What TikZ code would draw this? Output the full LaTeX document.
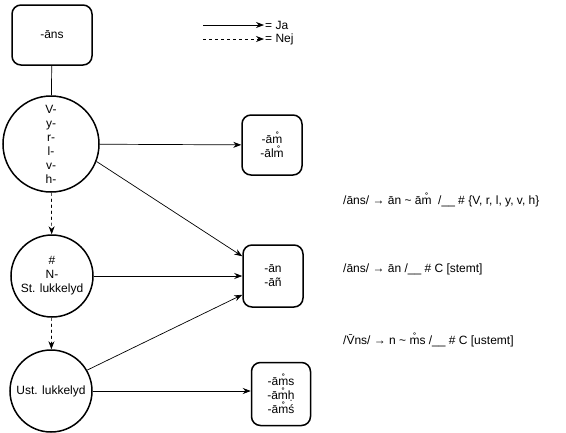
\documentclass[tikz,border=0pt]{standalone}
\usepackage{fontspec}
\setmainfont{Liberation Sans}
\usetikzlibrary{arrows.meta}

\tikzset{
  txt/.style={font=\fontsize{12}{14}\selectfont, align=center, inner sep=1pt},
  formbox/.style={txt, draw, line width=1.5pt, rounded corners=9pt},
  testnode/.style={txt, draw, circle, line width=1.5pt},
  ja/.style={-{Stealth[length=8pt,width=6pt]}, line width=0.7pt},
  nej/.style={ja, dashed},
}

\begin{document}
\begin{tikzpicture}[x=1pt,y=-1pt]

\useasboundingbox (0,0) rectangle (566,432);

% stem og test-noder
\node[formbox, minimum width=80pt, minimum height=60pt] (ans) at (52,35) {-āns};
\node[testnode, minimum size=96pt] (c1) at (51,144) {V-\\y-\\r-\\l-\\v-\\h-};
\node[testnode, minimum size=82pt] (c2) at (52,276) {\#\\N-\\St. lukkelyd};
\node[testnode, minimum size=82pt] (c3) at (51,391) {Ust. lukkelyd};

% resultater
\node[formbox, minimum width=60pt, minimum height=60pt] (b1) at (272,145) {-ām̊\\-ālm̊};
\node[formbox, minimum width=60pt, minimum height=62pt] (b2) at (273,276) {-ān\\-āñ};
\node[formbox, minimum width=59pt, minimum height=63pt] (b3) at (281,394) {-ām̊s\\-ām̊ḥ\\-ām̊ś};

% regler
\node[txt, anchor=west] (r1) at (342,200) {/āns/ → ān \textasciitilde{} ām̊ \ /\_\_ \# \{V, r, l, y, v, h\}};
\node[txt, anchor=west] (r2) at (342,269) {/āns/ → ān /\_\_ \# C [stemt]};
\node[txt, anchor=west] (r3) at (342,340) {/V̄ns/ → n \textasciitilde{} m̊s /\_\_ \# C [ustemt]};

% forbindelser
\draw[line width=0.7pt] (ans) -- (c1);
\draw[ja] (c1) -- (b1);
\draw[ja] (c1.-21) -- ([yshift=-12pt]b2.north west);
\draw[ja] (c2) -- (b2);
\draw[ja] (c3.30) -- ([yshift=13pt]b2.south west);
\draw[ja] (c3.east) -- (c3.east -| b3.west);
\draw[nej] (c1) -- (c2);
\draw[nej] (c2) -- (c3);

% forklaring
\coordinate (jastart) at (203,25);
\coordinate (nejstart) at (203,39);
\node[txt, anchor=west] (jalbl) at (264,25) {= Ja};
\node[txt, anchor=west] (nejlbl) at (264,39) {= Nej};
\draw[ja] (jastart) -- (jalbl.west);
\draw[nej] (nejstart) -- (nejlbl.west);
\end{tikzpicture}
\end{document}
